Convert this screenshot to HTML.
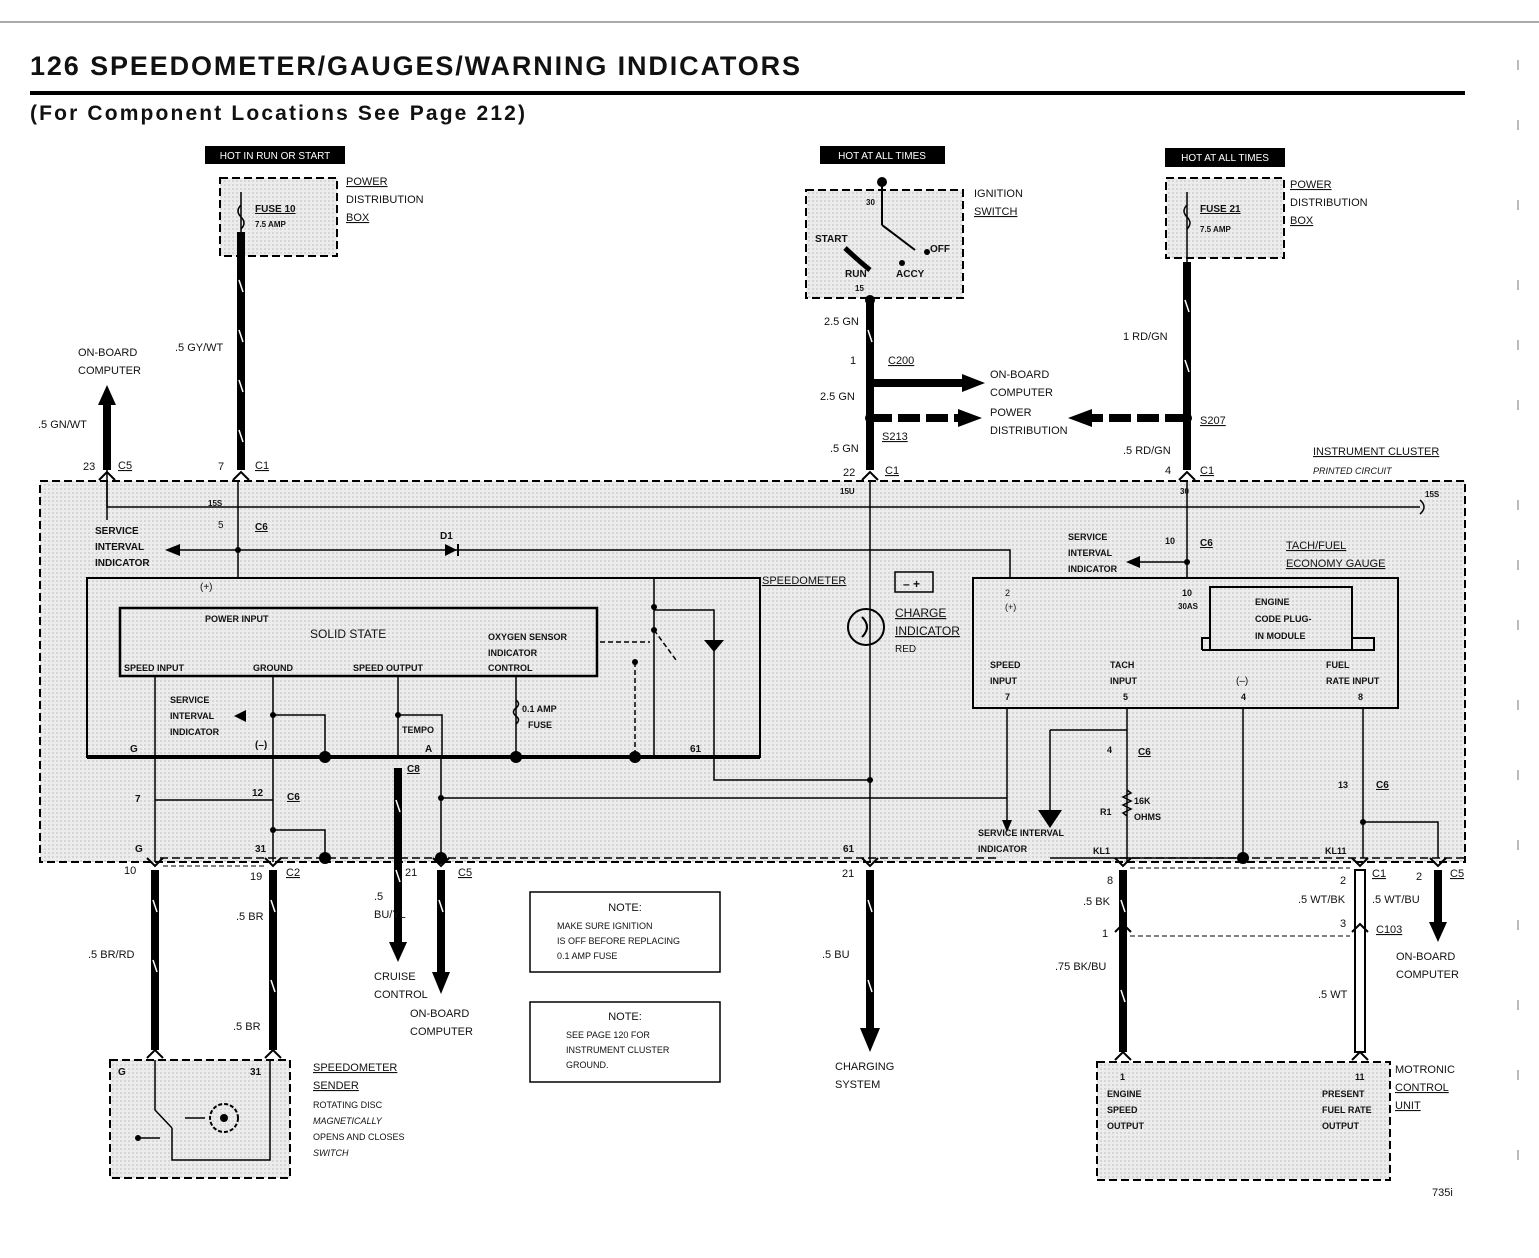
<!DOCTYPE html>
<html><head><meta charset="utf-8"><style>
html,body{margin:0;padding:0;background:#fff}
svg{display:block}
text{font-family:"Liberation Sans",sans-serif;font-weight:bold;fill:#111}
.s{font-size:10px}
.m{font-size:11px;font-weight:normal}
</style></head><body>
<svg width="1539" height="1258" viewBox="0 0 1539 1258" xmlns="http://www.w3.org/2000/svg">
<defs>
<pattern id="g" width="4" height="4" patternUnits="userSpaceOnUse"><rect width="4" height="4" fill="#ececec"/><rect width="2" height="2" fill="#d6d6d6"/></pattern>
</defs>
<line x1="0" y1="22" x2="1539" y2="22" stroke="#555" stroke-width="1"/>
<text x="30" y="75" style="font-size:27px" textLength="770" lengthAdjust="spacing">126  SPEEDOMETER/GAUGES/WARNING INDICATORS</text>
<rect x="30" y="91" width="1435" height="4" fill="#000"/>
<text x="30" y="120" style="font-size:21px" textLength="495" lengthAdjust="spacing">(For Component Locations See Page 212)</text>

<rect x="205" y="146" width="140" height="18" fill="#000"/><text x="275" y="159" class="s" text-anchor="middle" style="fill:#fff;font-weight:normal">HOT IN RUN OR START</text>
<rect x="820" y="146" width="125" height="18" fill="#000"/><text x="882" y="159" class="s" text-anchor="middle" style="fill:#fff;font-weight:normal">HOT AT ALL TIMES</text>
<rect x="1165" y="148" width="120" height="19" fill="#000"/><text x="1225" y="161" class="s" text-anchor="middle" style="fill:#fff;font-weight:normal">HOT AT ALL TIMES</text>

<g stroke="#000" stroke-width="2" stroke-dasharray="8,4" fill="url(#g)">
<rect x="220" y="178" width="117" height="78"/>
<rect x="806" y="190" width="157" height="108"/>
<rect x="1166" y="178" width="118" height="80"/>
<rect x="40" y="481" width="1425" height="381"/>
<rect x="110" y="1060" width="180" height="118"/>
<rect x="1097" y="1062" width="293" height="118"/>
</g>
<path d="M241 192V232M1187 192V262" stroke="#000" stroke-width="1.5"/>
<path d="M241 205q-6 6 0 12q6 6 0 12M1187 205q-6 6 0 12q6 6 0 12" stroke="#000" stroke-width="1.5" fill="none"/>
<text x="255" y="212" class="s" style="text-decoration:underline">FUSE 10</text><text x="255" y="227" class="s" style="font-size:8px">7.5 AMP</text>
<text x="1200" y="212" class="s" style="text-decoration:underline">FUSE 21</text><text x="1200" y="232" class="s" style="font-size:8px">7.5 AMP</text>
<text x="346" y="185" class="m" style="text-decoration:underline">POWER</text><text x="346" y="203" class="m">DISTRIBUTION</text><text x="346" y="221" class="m" style="text-decoration:underline">BOX</text>
<text x="1290" y="188" class="m" style="text-decoration:underline">POWER</text><text x="1290" y="206" class="m">DISTRIBUTION</text><text x="1290" y="224" class="m" style="text-decoration:underline">BOX</text>
<text x="974" y="197" class="m">IGNITION</text><text x="974" y="215" class="m" style="text-decoration:underline">SWITCH</text>
<circle cx="882" cy="182" r="5"/><line x1="882" y1="182" x2="882" y2="225" stroke="#000" stroke-width="2"/>
<line x1="882" y1="225" x2="915" y2="250" stroke="#000" stroke-width="2"/><circle cx="927" cy="252" r="3"/>
<path d="M845 248 Q860 262 870 270" stroke="#000" stroke-width="5" fill="none"/><circle cx="902" cy="263" r="3"/>
<circle cx="870" cy="300" r="5"/>
<text x="866" y="205" class="s" style="font-size:8px">30</text><text x="815" y="242" class="s">START</text><text x="930" y="252" class="s">OFF</text>
<text x="845" y="277" class="s">RUN</text><text x="896" y="277" class="s">ACCY</text><text x="855" y="291" class="s" style="font-size:8px">15</text>

<g stroke="#000" stroke-width="8" fill="none">
<line x1="241" y1="232" x2="241" y2="470"/>
<line x1="870" y1="300" x2="870" y2="470"/>
<line x1="1187" y1="262" x2="1187" y2="470"/>
<line x1="107" y1="470" x2="107" y2="400"/>
<line x1="870" y1="870" x2="870" y2="1030"/>
<line x1="155" y1="870" x2="155" y2="1050"/>
<line x1="273" y1="870" x2="273" y2="1050"/>
<line x1="398" y1="768" x2="398" y2="945"/>
<line x1="441" y1="870" x2="441" y2="975"/>
<line x1="1123" y1="870" x2="1123" y2="1052"/>
<line x1="1438" y1="870" x2="1438" y2="925"/>
<line x1="870" y1="383" x2="965" y2="383"/>
<line x1="870" y1="418" x2="960" y2="418" stroke-dasharray="22,6"/>
<line x1="1187" y1="418" x2="1090" y2="418" stroke-dasharray="22,6"/>
</g>
<rect x="1355" y="870" width="10" height="182" fill="#fff" stroke="#000" stroke-width="2"/>
<g fill="#000">
<path d="M98 405 L107 385 L116 405z"/>
<path d="M860 1028 L870 1052 L880 1028z"/>
<path d="M389 942 L398 962 L407 942z"/>
<path d="M432 972 L441 994 L450 972z"/>
<path d="M1429 922 L1438 942 L1447 922z"/>
<path d="M962 374 L985 383 L962 392z"/>
<path d="M958 409 L982 418 L958 427z"/>
<path d="M1092 409 L1068 418 L1092 427z"/>
<circle cx="870" cy="418" r="5"/><circle cx="1187" cy="418" r="5"/>
</g>
<g stroke="#fff" stroke-width="1.5">
<path d="M239 280l4 12M239 330l4 12M239 380l4 12M239 430l4 12M868 330l4 12M1185 300l4 12M1185 360l4 12M153 900l4 12M153 960l4 12M271 900l4 12M271 980l4 12M396 800l4 12M396 870l4 12M439 900l4 12M868 900l4 12M868 980l4 12M1121 900l4 12M1121 990l4 12"/>
</g>

<text x="78" y="356" class="m">ON-BOARD</text><text x="78" y="374" class="m">COMPUTER</text>
<text x="175" y="351" class="m">.5 GY/WT</text>
<text x="38" y="428" class="m">.5 GN/WT</text>
<text x="824" y="325" class="m">2.5 GN</text>
<text x="850" y="364" class="m">1</text><text x="888" y="364" class="m" style="text-decoration:underline">C200</text>
<text x="820" y="400" class="m">2.5 GN</text>
<text x="990" y="378" class="m">ON-BOARD</text><text x="990" y="396" class="m">COMPUTER</text>
<text x="990" y="416" class="m">POWER</text><text x="990" y="434" class="m">DISTRIBUTION</text>
<text x="882" y="440" class="m" style="text-decoration:underline">S213</text>
<text x="1200" y="424" class="m" style="text-decoration:underline">S207</text>
<text x="830" y="452" class="m">.5 GN</text>
<text x="1123" y="340" class="m">1 RD/GN</text>
<text x="1123" y="454" class="m">.5 RD/GN</text>
<text x="1313" y="455" class="m" style="text-decoration:underline">INSTRUMENT CLUSTER</text>
<text x="1313" y="474" class="s" style="font-size:9px;font-style:italic;font-weight:normal">PRINTED CIRCUIT</text>
<text x="83" y="470" class="m">23</text><text x="118" y="469" class="m" style="text-decoration:underline">C5</text>
<text x="218" y="470" class="m">7</text><text x="255" y="469" class="m" style="text-decoration:underline">C1</text>
<text x="843" y="476" class="m">22</text><text x="885" y="474" class="m" style="text-decoration:underline">C1</text>
<text x="1165" y="474" class="m">4</text><text x="1200" y="474" class="m" style="text-decoration:underline">C1</text>
<g stroke="#000" stroke-width="2" fill="none">
<path d="M99 480l8-8 8 8M233 480l8-8 8 8M862 480l8-8 8 8M1179 480l8-8 8 8"/>
<path d="M147 858l8 8 8-8M265 858l8 8 8-8M433 858l8 8 8-8M862 858l8 8 8-8M1115 858l8 8 8-8M1352 858l8 8 8-8M1430 858l8 8 8-8"/>
<path d="M147 1058l8-8 8 8M265 1058l8-8 8 8M1115 1060l8-8 8 8M1352 1060l8-8 8 8M1115 932l8-8 8 8M1352 932l8-8 8 8"/>
</g>

<g stroke="#000" stroke-width="1.5" fill="none">
<path d="M107 480V507H1420"/>
<path d="M1420 500 q8 7 0 14"/>
<path d="M238 480V578"/>
<path d="M170 550H1010V578"/>
<path d="M1187 480V578"/>
<path d="M870 480V862"/>
<path d="M1140 562H1187"/>
<path d="M155 676V862M273 676V862M273 715H325V757M398 676V757M398 715H442V757M516 676V757M654 578V757M654 610H714V757M714 757V780H870M441 757V862M441 798H1007V830M1007 708V800M1127 708V862M1050 730H1127M1050 730V815M1243 708V858M1363 708V858M1363 822H1438V858M155 800H273M273 830H325V858M1243 858H1050M107 470V520"/>
<path d="M160 858H1000M1120 858H1465" stroke-dasharray="8,4"/>
<path d="M163 866H265M1130 868H1350M1130 936H1350" stroke-dasharray="5,3" stroke-width="1"/>
</g>
<path d="M445 544v12l12-6z" fill="#000"/><line x1="458" y1="544" x2="458" y2="556" stroke="#000" stroke-width="2"/>
<path d="M180 544 L165 550 L180 556z" fill="#000"/>
<path d="M1140 556 L1126 562 L1140 568z" fill="#000"/>
<path d="M1038 810 L1050 828 L1062 810z" fill="#000"/>
<path d="M1002 820 L1007 832 L1012 820z" fill="#000"/>

<rect x="87" y="578" width="673" height="179" fill="none" stroke="#000" stroke-width="2"/>
<line x1="87" y1="757" x2="760" y2="757" stroke="#000" stroke-width="4"/>
<rect x="120" y="608" width="477" height="68" fill="none" stroke="#000" stroke-width="2.5"/>
<text x="205" y="622" class="s" style="font-size:9px">POWER INPUT</text>
<text x="310" y="638" class="s" style="font-weight:normal;font-size:12px">SOLID STATE</text>
<text x="488" y="640" class="s" style="font-size:9px">OXYGEN SENSOR</text>
<text x="488" y="656" class="s" style="font-size:9px">INDICATOR</text>
<text x="488" y="671" class="s" style="font-size:9px">CONTROL</text>
<text x="124" y="671" class="s" style="font-size:9px">SPEED INPUT</text>
<text x="253" y="671" class="s" style="font-size:9px">GROUND</text>
<text x="353" y="671" class="s" style="font-size:9px">SPEED OUTPUT</text>
<text x="170" y="703" class="s" style="font-size:9px">SERVICE</text><text x="170" y="719" class="s" style="font-size:9px">INTERVAL</text><text x="170" y="735" class="s" style="font-size:9px">INDICATOR</text>
<text x="402" y="733" class="s" style="font-size:9px">TEMPO</text>
<text x="522" y="712" class="s" style="font-size:9px">0.1 AMP</text><text x="528" y="728" class="s" style="font-size:9px">FUSE</text>
<text x="200" y="590" class="s" style="font-weight:normal">(+)</text>
<text x="208" y="506" class="s" style="font-size:8px">15S</text>
<text x="218" y="528" class="m" style="font-size:10px">5</text><text x="255" y="530" class="s" style="text-decoration:underline">C6</text>
<text x="95" y="534" class="s">SERVICE</text><text x="95" y="550" class="s">INTERVAL</text><text x="95" y="566" class="s">INDICATOR</text>
<text x="440" y="539" class="s">D1</text>
<text x="762" y="584" class="m" style="text-decoration:underline">SPEEDOMETER</text>
<text x="130" y="752" class="s">G</text><text x="255" y="748" class="s">(–)</text><text x="425" y="752" class="s">A</text><text x="690" y="752" class="s">61</text>
<text x="407" y="772" class="s" style="text-decoration:underline">C8</text>
<text x="135" y="802" class="s">7</text><text x="252" y="796" class="s">12</text><text x="287" y="800" class="s" style="text-decoration:underline">C6</text>
<text x="135" y="852" class="s">G</text><text x="255" y="852" class="s">31</text>
<text x="124" y="874" class="m">10</text><text x="250" y="880" class="m">19</text><text x="286" y="876" class="m" style="text-decoration:underline">C2</text>
<text x="405" y="876" class="m">21</text><text x="458" y="876" class="m" style="text-decoration:underline">C5</text>
<text x="843" y="852" class="s">61</text><text x="842" y="877" class="m">21</text>
<text x="840" y="494" class="s" style="font-size:8px">15U</text>
<text x="1180" y="494" class="s" style="font-size:8px">30</text>
<text x="1425" y="497" class="s" style="font-size:8px">15S</text>
<g fill="#000"><circle cx="325" cy="757" r="6"/><circle cx="516" cy="757" r="6"/><circle cx="635" cy="757" r="6"/><circle cx="325" cy="858" r="6"/><circle cx="441" cy="858" r="6"/><circle cx="1243" cy="858" r="6"/>
<circle cx="273" cy="715" r="3"/><circle cx="398" cy="715" r="3"/><circle cx="654" cy="607" r="3"/><circle cx="654" cy="630" r="3"/><circle cx="635" cy="662" r="3"/><circle cx="870" cy="780" r="3"/><circle cx="441" cy="798" r="3"/><circle cx="273" cy="830" r="3"/><circle cx="1363" cy="822" r="3"/><circle cx="238" cy="550" r="3"/><circle cx="1187" cy="562" r="3"/>
<path d="M704 640h20l-10 12z"/><path d="M234 716l12 -6v12z"/></g>
<path d="M635 662V757M654 630L676 660M600 642H650" stroke="#000" stroke-width="1.5" stroke-dasharray="5,3" fill="none"/>

<circle cx="866" cy="627" r="18" fill="none" stroke="#000" stroke-width="2"/>
<path d="M862 617 q10 10 0 20" stroke="#000" stroke-width="2" fill="none"/>
<rect x="895" y="572" width="38" height="20" fill="none" stroke="#000" stroke-width="1.5"/>
<text x="903" y="588" class="s" style="font-size:12px">– +</text>
<text x="895" y="617" class="m" style="text-decoration:underline;font-size:12px">CHARGE</text>
<text x="895" y="635" class="m" style="text-decoration:underline;font-size:12px">INDICATOR</text>
<text x="895" y="652" class="s" style="font-weight:normal">RED</text>

<rect x="973" y="578" width="425" height="130" fill="none" stroke="#000" stroke-width="2"/>
<rect x="1210" y="587" width="142" height="63" fill="url(#g)" stroke="#000" stroke-width="2"/>
<path d="M1202 650V638H1210M1352 638H1374V650H1202" fill="none" stroke="#000" stroke-width="2"/>
<text x="1255" y="605" class="s" style="font-size:9px">ENGINE</text><text x="1255" y="622" class="s" style="font-size:9px">CODE PLUG-</text><text x="1255" y="639" class="s" style="font-size:9px">IN MODULE</text>
<text x="1286" y="549" class="m" style="text-decoration:underline">TACH/FUEL</text><text x="1286" y="567" class="m" style="text-decoration:underline">ECONOMY GAUGE</text>
<text x="1068" y="540" class="s" style="font-size:9px">SERVICE</text><text x="1068" y="556" class="s" style="font-size:9px">INTERVAL</text><text x="1068" y="572" class="s" style="font-size:9px">INDICATOR</text>
<text x="1165" y="544" class="s" style="font-size:9px">10</text><text x="1200" y="546" class="s" style="text-decoration:underline">C6</text>
<text x="1005" y="596" class="s" style="font-size:9px;font-weight:normal">2</text><text x="1005" y="610" class="s" style="font-size:9px;font-weight:normal">(+)</text>
<text x="1182" y="596" class="s" style="font-size:9px">10</text><text x="1178" y="609" class="s" style="font-size:8px">30AS</text>
<text x="990" y="668" class="s" style="font-size:9px">SPEED</text><text x="990" y="684" class="s" style="font-size:9px">INPUT</text><text x="1005" y="700" class="s" style="font-size:9px">7</text>
<text x="1110" y="668" class="s" style="font-size:9px">TACH</text><text x="1110" y="684" class="s" style="font-size:9px">INPUT</text><text x="1123" y="700" class="s" style="font-size:9px">5</text>
<text x="1236" y="684" class="s" style="font-weight:normal">(–)</text><text x="1241" y="700" class="s" style="font-size:9px">4</text>
<text x="1326" y="668" class="s" style="font-size:9px">FUEL</text><text x="1326" y="684" class="s" style="font-size:9px">RATE INPUT</text><text x="1358" y="700" class="s" style="font-size:9px">8</text>
<text x="1107" y="753" class="s" style="font-size:9px">4</text><text x="1138" y="755" class="s" style="text-decoration:underline">C6</text>
<text x="1134" y="804" class="s" style="font-size:9px">16K</text><text x="1134" y="820" class="s" style="font-size:9px">OHMS</text><text x="1100" y="815" class="s" style="font-size:9px">R1</text>
<text x="978" y="836" class="s" style="font-size:9px">SERVICE INTERVAL</text><text x="978" y="852" class="s" style="font-size:9px">INDICATOR</text>
<text x="1093" y="854" class="s" style="font-size:9px">KL1</text><text x="1325" y="854" class="s" style="font-size:9px">KL11</text>
<text x="1338" y="788" class="s" style="font-size:9px">13</text><text x="1376" y="788" class="s" style="text-decoration:underline">C6</text>
<path d="M1127 790 l4 3 -8 4 8 4 -8 4 8 4 -8 4 4 3" stroke="#000" fill="none" stroke-width="1.5"/>
<path d="M516 700 q5 4 0 8 q-5 4 0 8 q5 4 0 8" stroke="#000" fill="none" stroke-width="1.5"/>

<text x="236" y="920" class="m">.5 BR</text><text x="88" y="958" class="m">.5 BR/RD</text><text x="233" y="1030" class="m">.5 BR</text>
<text x="374" y="900" class="m">.5</text><text x="374" y="918" class="m">BU/YL</text>
<text x="374" y="980" class="m">CRUISE</text><text x="374" y="998" class="m">CONTROL</text>
<text x="410" y="1017" class="m">ON-BOARD</text><text x="410" y="1035" class="m">COMPUTER</text>
<text x="822" y="958" class="m">.5 BU</text>
<text x="835" y="1070" class="m">CHARGING</text><text x="835" y="1088" class="m">SYSTEM</text>
<text x="1107" y="884" class="m">8</text><text x="1083" y="905" class="m">.5 BK</text><text x="1102" y="937" class="m">1</text><text x="1055" y="970" class="m">.75 BK/BU</text>
<text x="1340" y="884" class="m">2</text><text x="1372" y="877" class="m" style="text-decoration:underline">C1</text>
<text x="1416" y="880" class="m">2</text><text x="1450" y="877" class="m" style="text-decoration:underline">C5</text>
<text x="1298" y="903" class="m">.5 WT/BK</text><text x="1372" y="903" class="m">.5 WT/BU</text>
<text x="1340" y="927" class="m">3</text><text x="1376" y="933" class="m" style="text-decoration:underline">C103</text>
<text x="1396" y="960" class="m">ON-BOARD</text><text x="1396" y="978" class="m">COMPUTER</text>
<text x="1318" y="998" class="m">.5 WT</text>
<text x="1395" y="1073" class="m">MOTRONIC</text><text x="1395" y="1091" class="m" style="text-decoration:underline">CONTROL</text><text x="1395" y="1109" class="m" style="text-decoration:underline">UNIT</text>
<text x="1432" y="1196" class="m">735i</text>
<text x="313" y="1071" class="m" style="text-decoration:underline">SPEEDOMETER</text><text x="313" y="1089" class="m" style="text-decoration:underline">SENDER</text>
<text x="313" y="1108" class="s" style="font-size:9px;font-weight:normal">ROTATING DISC</text><text x="313" y="1124" class="s" style="font-size:9px;font-style:italic;font-weight:normal">MAGNETICALLY</text><text x="313" y="1140" class="s" style="font-size:9px;font-weight:normal">OPENS AND CLOSES</text><text x="313" y="1156" class="s" style="font-size:9px;font-style:italic;font-weight:normal">SWITCH</text>
<text x="118" y="1075" class="s">G</text><text x="250" y="1075" class="s">31</text>
<path d="M155 1060V1110L172 1128M172 1128V1160H270V1060M138 1138H160M185 1118H205" stroke="#000" stroke-width="1.5" fill="none"/>
<circle cx="138" cy="1138" r="3"/><circle cx="224" cy="1118" r="14" fill="none" stroke="#000" stroke-width="2" stroke-dasharray="4,2"/><circle cx="224" cy="1118" r="4"/>
<text x="1120" y="1080" class="s" style="font-size:9px">1</text><text x="1107" y="1097" class="s" style="font-size:9px">ENGINE</text><text x="1107" y="1113" class="s" style="font-size:9px">SPEED</text><text x="1107" y="1129" class="s" style="font-size:9px">OUTPUT</text>
<text x="1355" y="1080" class="s" style="font-size:9px">11</text><text x="1322" y="1097" class="s" style="font-size:9px">PRESENT</text><text x="1322" y="1113" class="s" style="font-size:9px">FUEL RATE</text><text x="1322" y="1129" class="s" style="font-size:9px">OUTPUT</text>

<rect x="530" y="892" width="190" height="80" fill="#fff" stroke="#000" stroke-width="1.5"/>
<text x="625" y="911" class="m" text-anchor="middle">NOTE:</text>
<text x="557" y="929" class="s" style="font-size:9px;font-weight:normal">MAKE SURE IGNITION</text><text x="557" y="944" class="s" style="font-size:9px;font-weight:normal">IS OFF BEFORE REPLACING</text><text x="557" y="959" class="s" style="font-size:9px;font-weight:normal">0.1 AMP FUSE</text>
<rect x="530" y="1002" width="190" height="80" fill="#fff" stroke="#000" stroke-width="1.5"/>
<text x="625" y="1020" class="m" text-anchor="middle">NOTE:</text>
<text x="566" y="1038" class="s" style="font-size:9px;font-weight:normal">SEE PAGE 120 FOR</text><text x="566" y="1053" class="s" style="font-size:9px;font-weight:normal">INSTRUMENT CLUSTER</text><text x="566" y="1068" class="s" style="font-size:9px;font-weight:normal">GROUND.</text>
<path d="M1518 60v10M1518 120v10M1518 200v10M1518 280v10M1518 340v10M1518 400v10M1518 500v10M1518 560v10M1518 620v10M1518 700v10M1518 770v10M1518 840v10M1518 920v10M1518 1000v10M1518 1070v10M1518 1150v10" stroke="#777"/>
</svg>
</body></html>
